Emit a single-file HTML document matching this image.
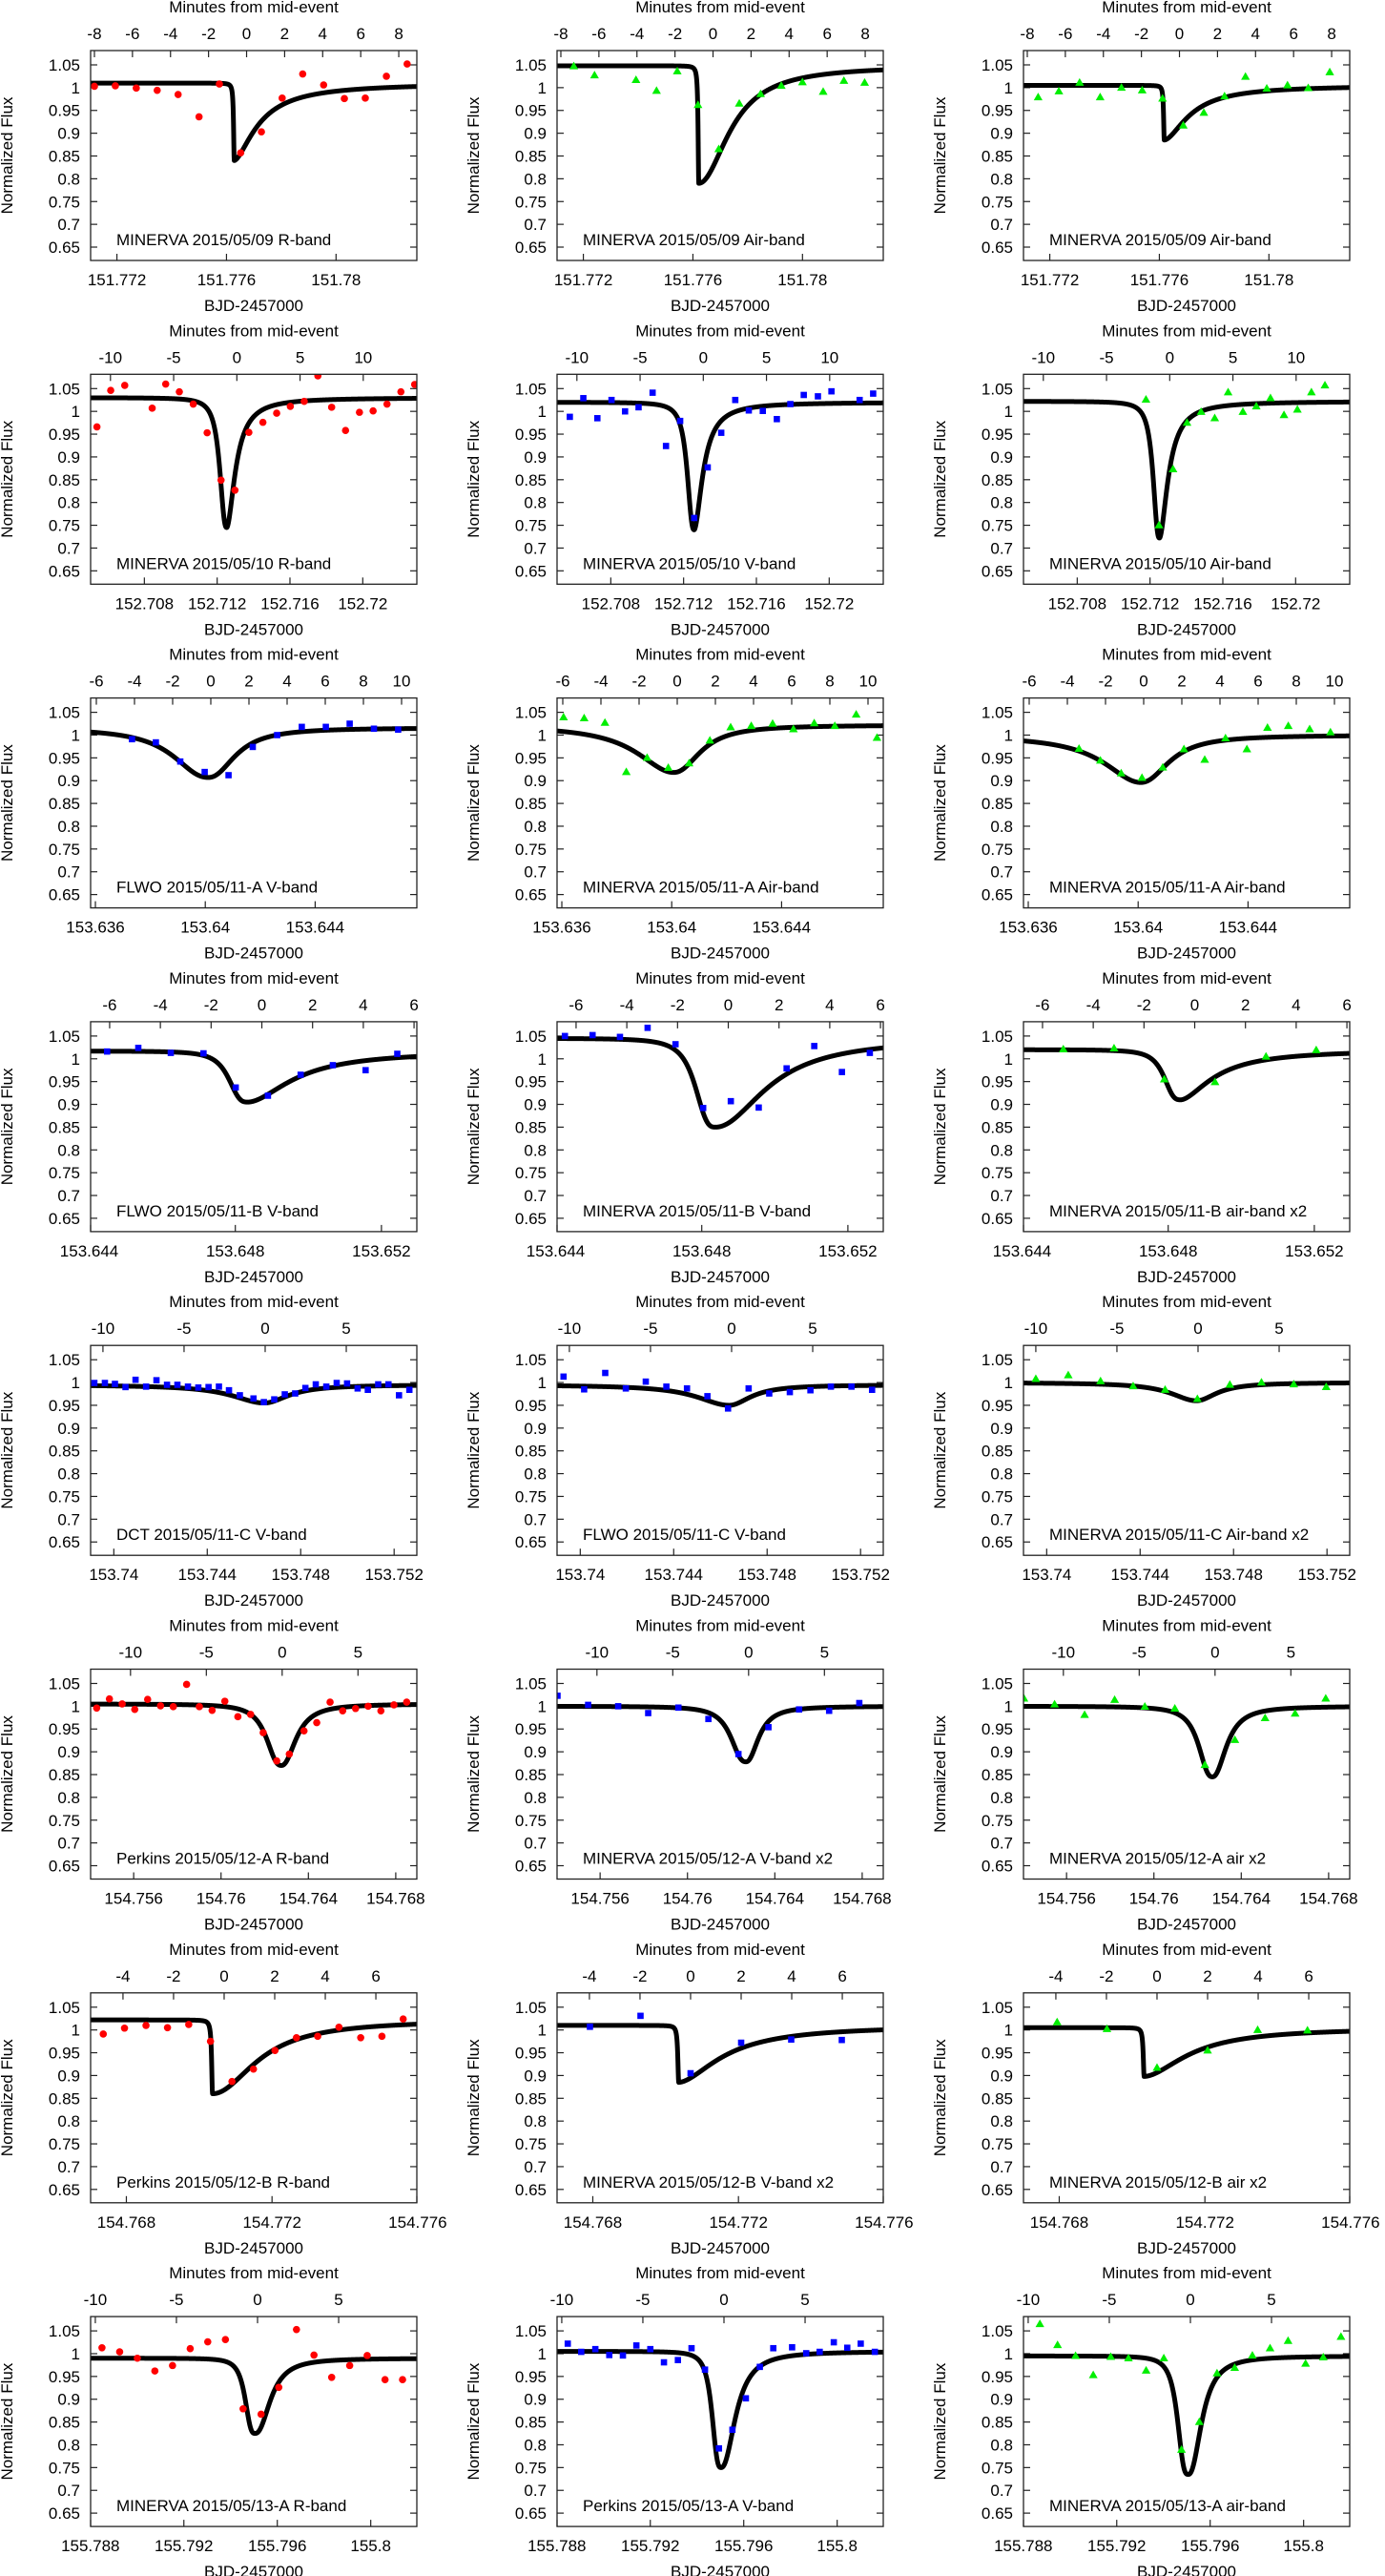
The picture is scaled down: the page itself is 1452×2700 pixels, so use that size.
<!DOCTYPE html>
<html><head><meta charset="utf-8">
<style>
html,body{margin:0;padding:0;background:#fff;}
svg{display:block;}
text{font-family:"Liberation Sans",Arial,sans-serif;fill:#000;}
</style></head>
<body>
<svg id="fig" width="1452" height="2700" viewBox="0 0 1452 2700" xmlns="http://www.w3.org/2000/svg"></svg>
<script>
// ---- row axis data (shared by all 3 panels in a row) ----
const rowT0 = [151.776734, 152.713082, 153.640201, 153.648726, 153.746479, 154.762799, 154.770685, 155.795154];
const rowMinLeft = [-8.2, -11.57, -6.3, -6.75, -10.76, -12.63, -5.28, -10.29];
const rowMinRight = [8.95, 14.24, 10.8, 6.11, 9.35, 8.88, 7.62, 9.82];
const rowTopTicks = [
  [-8,-6,-4,-2,0,2,4,6,8],
  [-10,-5,0,5,10],
  [-6,-4,-2,0,2,4,6,8,10],
  [-6,-4,-2,0,2,4,6],
  [-10,-5,0,5],
  [-10,-5,0,5],
  [-4,-2,0,2,4,6],
  [-10,-5,0,5]
];
const rowBottomTicks = [
  ["151.772","151.776","151.78"],
  ["152.708","152.712","152.716","152.72"],
  ["153.636","153.64","153.644"],
  ["153.644","153.648","153.652"],
  ["153.74","153.744","153.748","153.752"],
  ["154.756","154.76","154.764","154.768"],
  ["154.768","154.772","154.776"],
  ["155.788","155.792","155.796","155.8"]
];
const yTicks = [1.05,1,0.95,0.9,0.85,0.8,0.75,0.7,0.65];
const yTickLabels = ["1.05","1","0.95","0.9","0.85","0.8","0.75","0.7","0.65"];

// ---- per-panel data ----
const panelLabels = [
 "MINERVA 2015/05/09 R-band","MINERVA 2015/05/09 Air-band","MINERVA 2015/05/09 Air-band",
 "MINERVA 2015/05/10 R-band","MINERVA 2015/05/10 V-band","MINERVA 2015/05/10 Air-band",
 "FLWO 2015/05/11-A V-band","MINERVA 2015/05/11-A Air-band","MINERVA 2015/05/11-A Air-band",
 "FLWO 2015/05/11-B V-band","MINERVA 2015/05/11-B V-band","MINERVA 2015/05/11-B air-band x2",
 "DCT 2015/05/11-C V-band","FLWO 2015/05/11-C V-band","MINERVA 2015/05/11-C Air-band x2",
 "Perkins 2015/05/12-A R-band","MINERVA 2015/05/12-A V-band x2","MINERVA 2015/05/12-A air x2",
 "Perkins 2015/05/12-B R-band","MINERVA 2015/05/12-B V-band x2","MINERVA 2015/05/12-B air x2",
 "MINERVA 2015/05/13-A R-band","Perkins 2015/05/13-A V-band","MINERVA 2015/05/13-A air-band"
];
const markerTypes = ["circle","triangle","triangle","circle","square","triangle","square","triangle","triangle","square","square","triangle","square","square","triangle","circle","square","triangle","circle","square","triangle","circle","square","triangle"];
const dataMinutes = [
 [-8.0,-6.9,-5.8,-4.7,-3.6,-2.5,-1.43,-0.31,0.78,1.87,2.95,4.05,5.14,6.24,7.35,8.44],
 [-7.32,-6.23,-4.05,-2.97,-1.88,-0.79,0.30,1.38,2.50,3.59,4.7,5.79,6.88,7.97],
 [-7.43,-6.34,-5.25,-4.17,-3.05,-1.96,-0.89,0.20,1.28,2.37,3.47,4.59,5.68,6.77,7.9],
 [-11.07,-9.98,-8.87,-6.70,-5.63,-4.55,-3.45,-2.35,-1.25,-0.15,0.95,2.06,3.15,4.23,5.33,6.41,7.5,8.6,9.7,10.78,11.88,12.98,14.07],
 [-10.56,-9.49,-8.38,-7.26,-6.19,-5.12,-4.01,-2.95,-1.83,-0.72,0.35,1.42,2.53,3.6,4.71,5.82,6.89,7.95,9.07,10.14,12.37,13.44],
 [-1.88,-0.85,0.26,1.37,2.48,3.56,4.62,5.79,6.85,7.97,9.04,10.1,11.21,12.28],
 [-4.13,-2.88,-1.6,-0.32,0.93,2.2,3.48,4.77,6.03,7.28,8.55,9.82],
 [-5.96,-4.88,-3.79,-2.67,-1.58,-0.47,0.62,1.71,2.8,3.88,5.0,6.09,7.18,8.26,9.38,10.47],
 [-3.39,-2.27,-1.18,-0.09,1.0,2.11,3.2,4.29,5.41,6.49,7.58,8.7,9.79],
 [-6.1,-4.87,-3.59,-2.3,-1.03,0.24,1.53,2.8,4.09,5.34],
 [-6.44,-5.35,-4.27,-3.18,-2.08,-0.99,0.1,1.2,2.3,3.39,4.48,5.58],
 [-5.18,-3.18,-1.2,0.8,2.81,4.79],
 [-10.53,-9.88,-9.26,-8.61,-7.99,-7.34,-6.7,-6.05,-5.41,-4.76,-4.12,-3.49,-2.85,-2.23,-1.56,-0.72,-0.08,0.56,1.21,1.85,2.48,3.12,3.77,4.41,5.05,5.7,6.33,6.97,7.6,8.25,8.89],
 [-10.36,-9.09,-7.79,-6.52,-5.29,-4.02,-2.75,-1.49,-0.22,1.05,2.32,3.59,4.86,6.12,7.39,8.66],
 [-10.0,-8.0,-6.01,-4.0,-2.03,-0.04,1.96,3.91,5.9,7.9],
 [-12.23,-11.39,-10.55,-9.72,-8.87,-8.02,-7.18,-6.3,-5.46,-4.62,-3.78,-2.92,-2.08,-1.25,-0.36,0.47,1.44,2.28,3.16,3.99,4.84,5.67,6.51,7.37,8.21],
 [-12.6,-10.58,-8.6,-6.62,-4.63,-2.65,-0.67,1.31,3.33,5.31,7.3],
 [-12.6,-10.58,-8.6,-6.62,-4.63,-2.65,-0.67,1.31,3.3,5.28,7.3],
 [-4.78,-3.94,-3.09,-2.24,-1.4,-0.54,0.31,1.16,2.01,2.86,3.7,4.54,5.4,6.24,7.08],
 [-3.98,-1.98,0.0,2.0,3.98,5.98],
 [-3.95,-1.98,0.0,2.0,3.98,5.95],
 [-9.59,-8.5,-7.41,-6.33,-5.24,-4.15,-3.07,-1.98,-0.89,0.22,1.31,2.4,3.48,4.57,5.68,6.76,7.86,8.94],
 [-9.63,-8.8,-7.93,-7.07,-6.23,-5.4,-4.54,-3.7,-2.84,-2.0,-1.17,-0.31,0.52,1.35,2.21,3.04,4.2,5.07,5.9,6.77,7.6,8.43,9.3],
 [-9.28,-8.19,-7.08,-5.99,-4.91,-3.82,-2.73,-1.64,-0.55,0.55,1.64,2.73,3.82,4.91,6.02,7.1,8.19,9.28]
];
const dataFlux = [
 [1.003,1.004,0.999,0.994,0.985,0.936,1.008,0.857,0.903,0.977,1.03,1.006,0.976,0.977,1.025,1.052],
 [1.047,1.027,1.017,0.993,1.036,0.962,0.865,0.965,0.986,1.004,1.012,0.991,1.015,1.011],
 [0.979,0.992,1.011,0.979,1.0,0.994,0.976,0.917,0.945,0.981,1.024,0.998,1.005,0.999,1.034],
 [0.966,1.046,1.057,1.007,1.06,1.043,1.016,0.953,0.849,0.827,0.954,0.976,0.996,1.011,1.022,1.078,1.009,0.958,0.998,1.001,1.016,1.043,1.059],
 [0.988,1.029,0.985,1.025,1.0,1.009,1.041,0.924,0.979,0.766,0.877,0.953,1.025,1.002,1.001,0.983,1.016,1.036,1.033,1.044,1.025,1.039],
 [1.026,0.75,0.873,0.975,0.999,0.985,1.042,0.999,1.011,1.029,0.992,1.004,1.042,1.057],
 [0.991,0.984,0.942,0.919,0.912,0.974,1.0,1.018,1.018,1.025,1.014,1.012],
 [1.039,1.037,1.027,0.919,0.95,0.928,0.938,0.988,1.017,1.02,1.025,1.013,1.026,1.02,1.045,0.994],
 [0.97,0.944,0.916,0.906,0.929,0.969,0.946,0.993,0.969,1.016,1.02,1.013,1.006],
 [1.016,1.024,1.013,1.012,0.937,0.919,0.965,0.986,0.975,1.011],
 [1.05,1.052,1.048,1.068,1.032,0.892,0.907,0.893,0.979,1.028,0.971,1.013],
 [1.021,1.023,0.955,0.949,1.005,1.019],
 [0.999,0.999,0.997,0.99,1.006,0.991,1.005,0.995,0.995,0.991,0.989,0.99,0.991,0.983,0.972,0.965,0.957,0.963,0.974,0.976,0.988,0.996,0.991,0.999,0.998,0.987,0.984,0.996,0.996,0.972,0.984],
 [1.013,0.985,1.021,0.987,1.002,0.991,0.987,0.97,0.943,0.987,0.976,0.979,0.983,0.991,0.991,0.984],
 [1.008,1.016,1.003,0.992,0.984,0.964,0.995,1.0,0.996,0.99],
 [0.996,1.016,1.005,0.993,1.015,1.001,0.999,1.048,0.999,0.991,1.011,0.977,0.982,0.942,0.88,0.895,0.946,0.964,1.009,0.99,0.995,1.0,0.99,1.003,1.009],
 [1.023,1.003,1.0,0.985,0.997,0.972,0.895,0.954,0.993,0.99,1.007],
 [1.017,1.004,0.981,1.014,0.999,0.995,0.871,0.926,0.974,0.984,1.017],
 [0.991,1.004,1.01,1.005,1.012,0.975,0.887,0.914,0.955,0.983,0.986,1.006,0.983,0.986,1.024],
 [1.007,1.031,0.905,0.972,0.979,0.978],
 [1.017,1.002,0.917,0.955,1.0,0.999],
 [1.013,1.004,0.99,0.962,0.974,1.011,1.026,1.031,0.879,0.867,0.926,1.053,0.997,0.948,0.974,0.996,0.943,0.943],
 [1.022,1.004,1.01,0.997,0.996,1.018,1.01,0.981,0.986,1.012,0.965,0.792,0.833,0.902,0.971,1.012,1.014,1.001,1.004,1.025,1.013,1.022,1.004],
 [1.065,1.019,0.995,0.953,0.993,0.99,0.963,0.99,0.789,0.85,0.957,0.969,0.996,1.012,1.028,0.978,0.992,1.037]
];
// model fit parameters per panel
const modelBase  = [1.01,1.048,1.005, 1.03,1.02,1.022, 1.016,1.022,1.0, 1.017,1.045,1.02, 0.995,0.995,1.0, 1.005,1.0,1.0, 1.022,1.01,1.005, 0.99,1.005,0.995];
const modelDepth = [0.17,0.258,0.12, 0.285,0.28,0.30, 0.109,0.104,0.104, 0.112,0.195,0.11, 0.04,0.045,0.04, 0.135,0.122,0.155, 0.162,0.125,0.107, 0.165,0.255,0.26];
const modelCenter= [-0.65,-0.75,-0.8, -0.8,-0.72,-0.81, -0.13,-0.19,-0.16, -0.55,-0.5,-0.55, -0.06,-0.15,-0.1, -0.05,-0.17,-0.17, -0.46,-0.47,-0.51, -0.15,-0.17,-0.13];
const modelWidthL= [0.04,0.04,0.04, 0.6,0.6,0.55, 2.1,2.3,2.3, 0.8,0.85,0.7, 2.4,2.4,1.9, 1.08,1.1,1.0, 0.04,0.04,0.04, 0.65,0.6,0.7];
const modelWidthR= [1.4,1.85,1.5, 0.8,0.8,0.8, 1.6,1.6,1.7, 2.05,2.3,1.5, 1.8,1.6,1.5, 1.1,0.95,1.05, 2.0,1.96,2.0, 1.05,1.0,0.92];
const modelPowL  = [2,2,2, 2.5,2.5,2.5, 2.2,2,2, 3,3,3, 2,2,2, 2.5,2.5,2.5, 2,2,2, 3,3,3];
const modelPowR  = [1.6,2,1.7, 1.8,1.8,1.8, 2.2,2.2,2.2, 1.8,2,1.7, 2,2,2, 2.2,2.2,2.2, 2,1.74,1.8, 2.3,2.2,2.3];

// ---- layout ----
const NS = "http://www.w3.org/2000/svg";
const svg = document.getElementById('fig');
const colLeft = [95, 584, 1073];
const boxW = 342, boxH = 220;
const rowTop0 = 53, rowStep = 339.3;
const yMax = 1.0814, yMin = 0.6207;
const colors = {circle:"#ff0000", square:"#0000ff", triangle:"#00ee00"};

function mk(tag, attrs, parent){
  const e = document.createElementNS(NS, tag);
  for (const k in attrs) e.setAttribute(k, attrs[k]);
  parent.appendChild(e);
  return e;
}
function txt(str, attrs, parent){
  const t = mk('text', attrs, parent);
  t.textContent = str;
  return t;
}

for (let p = 0; p < 24; p++) {
  const r = Math.floor(p / 3), c = p % 3;
  const L = colLeft[c], T = rowTop0 + rowStep * r, R = L + boxW, B = T + boxH;
  const mL = rowMinLeft[r], mR = rowMinRight[r];
  const sx = m => L + (m - mL) / (mR - mL) * boxW;
  const sy = f => T + (yMax - f) / (yMax - yMin) * boxH;

  const g = mk('g', {}, svg);
  
  

  const cp = mk('clipPath', {id: 'clip' + p}, g);
  mk('rect', {x: L, y: T, width: boxW, height: boxH}, cp);

  const yt = mk('g', {}, g);
  
  
  for (let i = 0; i < yTicks.length; i++) {
    const y = sy(yTicks[i]);
    mk('line', {x1: L, x2: L + 7, y1: y, y2: y, stroke: '#222', 'stroke-width': 1.2}, yt);
    mk('line', {x1: R - 7, x2: R, y1: y, y2: y, stroke: '#222', 'stroke-width': 1.2}, yt);
    const lab = txt(yTickLabels[i], {x: L - 11, y: y + 6, 'font-size': 17, 'text-anchor': 'end'}, yt);
    
    
  }
  const tt = mk('g', {}, g);
  
  
  for (const m of rowTopTicks[r]) {
    const x = sx(m);
    mk('line', {x1: x, x2: x, y1: T, y2: T + 7, stroke: '#222', 'stroke-width': 1.2}, tt);
    const lab = txt(String(m), {x: x, y: T - 12, 'font-size': 17, 'text-anchor': 'middle'}, tt);
    
    
  }
  const bt = mk('g', {}, g);
  
  
  for (const s of rowBottomTicks[r]) {
    const m = (parseFloat(s) - rowT0[r]) * 1440;
    const x = sx(m);
    const xc = Math.min(Math.max(x, L), R);
    if (Math.abs(xc - x) < 3) mk('line', {x1: xc, x2: xc, y1: B - 7, y2: B, stroke: '#222', 'stroke-width': 1.2}, bt);
    const lab = txt(s, {x: x, y: B + 26, 'font-size': 17, 'text-anchor': 'middle'}, bt);
    
    
  }
  const t1 = txt('Minutes from mid-event', {x: L + boxW / 2, y: T - 40, 'font-size': 17, 'text-anchor': 'middle'}, g);
  
  
  const t2 = txt('BJD-2457000', {x: L + boxW / 2, y: B + 53, 'font-size': 17, 'text-anchor': 'middle'}, g);
  
  
  const yc = T + boxH / 2, xcT = L - 82;
  const t3 = txt('Normalized Flux', {x: xcT, y: yc, 'font-size': 17, 'text-anchor': 'middle', transform: 'rotate(-90 ' + xcT + ' ' + yc + ')'}, g);
  
  

  const pts = [];
  for (let m = mL - 0.2; m <= mR + 0.2; m += 0.01) {
    const d = m - modelCenter[p];
    const u = d < 0 ? (-d) / modelWidthL[p] : d / modelWidthR[p];
    const pw = d < 0 ? modelPowL[p] : modelPowR[p];
    const f = modelBase[p] - modelDepth[p] / (1 + Math.pow(u, pw));
    pts.push(sx(m).toFixed(2) + ',' + sy(f).toFixed(2));
  }
  const curve = mk('polyline', {points: pts.join(' '), fill: 'none', stroke: '#000', 'stroke-width': 5, 'stroke-linejoin': 'round', 'clip-path': 'url(#clip' + p + ')'}, g);
  
  

  const dg = mk('g', {'clip-path': 'url(#clip' + p + ')'}, g);
  
  
  const type = markerTypes[p], col = colors[type];
  for (let i = 0; i < dataMinutes[p].length; i++) {
    const x = sx(dataMinutes[p][i]), y = sy(dataFlux[p][i]);
    let el;
    if (type === 'circle') el = mk('circle', {cx: x, cy: y, r: 3.8, fill: col}, dg);
    else if (type === 'square') el = mk('rect', {x: x - 3.3, y: y - 3.3, width: 6.6, height: 6.6, fill: col}, dg);
    else el = mk('polygon', {points: x + ',' + (y - 4.8) + ' ' + (x - 4.6) + ',' + (y + 3.2) + ' ' + (x + 4.6) + ',' + (y + 3.2), fill: col}, dg);
    
    
  }

  const lb = txt(panelLabels[p], {x: L + 27, y: B - 16, 'font-size': 17}, g);
  
  

  const fr = mk('rect', {x: L, y: T, width: boxW, height: boxH, fill: 'none', stroke: '#222', 'stroke-width': 1.3}, g);
  
  
}
</script>
</body></html>
